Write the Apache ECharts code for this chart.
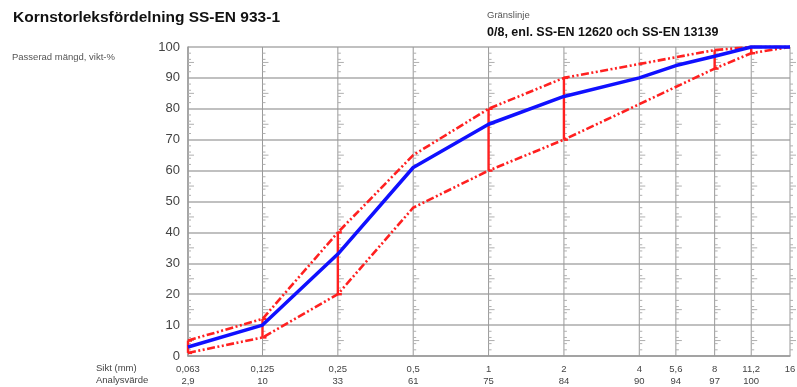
<!DOCTYPE html>
<html><head><meta charset="utf-8">
<script src="https://cdn.jsdelivr.net/npm/echarts@6/dist/echarts.min.js"></script>
<style>html,body{margin:0;padding:0;background:#fff}#c{width:797px;height:387px}</style>
</head><body><div id="c"></div>
<script>
const title = 'Kornstorleksfördelning SS-EN 933-1';
const yAxisName = 'Passerad mängd, vikt-%';
const limitCaption = 'Gränslinje';
const limitName = '0/8, enl. SS-EN 12620 och SS-EN 13139';
const rowLabels = ['Sikt (mm)', 'Analysvärde'];

const sieves = [0.063, 0.125, 0.25, 0.5, 1, 2, 4, 5.6, 8, 11.2, 16];
const analysis = [2.9, 10, 33, 61, 75, 84, 90, 94, 97, 100, 100];
const analysisLabels = ['2,9', '10', '33', '61', '75', '84', '90', '94', '97', '100', ''];

const limitSieves = [0.063, 0.125, 0.25, 0.5, 1, 2, 8, 11.2, 16];
const upperLimit = [5, 12, 40, 65, 80, 90, 99, 100, 100];
const lowerLimit = [1, 6, 20, 48, 60, 70, 93, 98, 100];
const barSieves = [0.063, 0.125, 0.25, 1, 2, 8, 11.2];

const minorMarks = [];
for (let d = 0; d < 100; d += 10) { [2, 4, 5, 6, 8].forEach(m => minorMarks.push(d + m)); }

const fmt = v => String(v).replace('.', ',');
const FONT = '"Liberation Sans", Arial, sans-serif';
const DASH = [8, 2.5, 2, 2.5, 2, 2.5];

const chart = echarts.init(document.getElementById('c'), null, { renderer: 'canvas' });

const barData = barSieves.map(s => {
  const i = limitSieves.indexOf(s);
  return [s, lowerLimit[i], upperLimit[i]];
});

chart.setOption({
  animation: false,
  backgroundColor: '#fff',
  textStyle: { fontFamily: FONT },
  grid: { left: 188, right: 7, top: 47, bottom: 31 },
  xAxis: {
    type: 'log', logBase: 2, min: 0.063, max: 16,
    axisLabel: { show: false }, axisTick: { show: false }, splitLine: { show: false },
    axisLine: { show: true, lineStyle: { color: '#999', width: 1.5 } }
  },
  yAxis: {
    type: 'value', min: 0, max: 100, interval: 10,
    axisLine: { show: true, lineStyle: { color: '#999', width: 1.5 } },
    axisTick: { show: false },
    axisLabel: { fontSize: 13, color: '#444', margin: 8, fontFamily: FONT },
    splitLine: { lineStyle: { color: '#c0c0c0', width: 2 } }
  },
  graphic: [
    { type: 'text', left: 13, top: 10, style: { text: title, font: 'bold 15.5px ' + FONT, fill: '#111' } },
    { type: 'text', left: 487, top: 10, style: { text: limitCaption, font: '9.5px ' + FONT, fill: '#555' } },
    { type: 'text', left: 487, top: 26, style: { text: limitName, font: 'bold 12.5px ' + FONT, fill: '#111' } },
    { type: 'text', left: 12, top: 52, style: { text: yAxisName, font: '9.5px ' + FONT, fill: '#555' } },
    { type: 'text', left: 96, top: 363, style: { text: rowLabels[0], font: '9.5px ' + FONT, fill: '#444' } },
    { type: 'text', left: 96, top: 375, style: { text: rowLabels[1], font: '9.5px ' + FONT, fill: '#444' } }
  ],
  series: [
    {
      type: 'custom', name: 'grid', z: 1, silent: true, clip: false,
      data: sieves.map((s, i) => [s, i]),
      renderItem: (params, api) => {
        const s = api.value(0);
        const i = api.value(1);
        const b = api.coord([s, 0]);
        const t = api.coord([s, 100]);
        const children = [
          { type: 'line', shape: { x1: b[0], y1: b[1], x2: t[0], y2: t[1] }, style: { stroke: '#999', lineWidth: 1 } }
        ];
        minorMarks.forEach(y => {
          const p = api.coord([s, y]);
          const len = (y % 10 === 5) ? 6 : 3;
          children.push({ type: 'line', shape: { x1: p[0], y1: p[1], x2: p[0] + len, y2: p[1] }, style: { stroke: '#b0b0b0', lineWidth: 1 } });
        });
        children.push({ type: 'text', x: b[0], y: b[1] + 7, style: {
          text: fmt(sieves[i]) + '\n' + analysisLabels[i], align: 'center', verticalAlign: 'top',
          font: '9.5px ' + FONT, lineHeight: 12, fill: '#444' } });
        return { type: 'group', children };
      }
    },
    {
      type: 'line', name: 'upper', z: 3, symbol: 'none', clip: false,
      data: limitSieves.map((s, i) => [s, upperLimit[i]]),
      lineStyle: { color: '#ff2020', width: 2.6, type: DASH }
    },
    {
      type: 'line', name: 'lower', z: 3, symbol: 'none', clip: false,
      data: limitSieves.map((s, i) => [s, lowerLimit[i]]),
      lineStyle: { color: '#ff2020', width: 2.6, type: DASH }
    },
    {
      type: 'custom', name: 'bars', z: 4, silent: true, clip: false,
      data: barData,
      renderItem: (params, api) => {
        const s = api.value(0);
        const lo = api.coord([s, api.value(1)]);
        const hi = api.coord([s, api.value(2)]);
        const st = { stroke: '#ff2020', lineWidth: 2.4 };
        return { type: 'group', children: [
          { type: 'line', shape: { x1: lo[0], y1: lo[1], x2: hi[0], y2: hi[1] }, style: st },
          { type: 'line', shape: { x1: hi[0], y1: hi[1], x2: hi[0] + 4, y2: hi[1] }, style: st },
          { type: 'line', shape: { x1: lo[0], y1: lo[1], x2: lo[0] + 4, y2: lo[1] }, style: st }
        ] };
      }
    },
    {
      type: 'line', name: 'analys', z: 5, symbol: 'none', clip: false,
      data: sieves.map((s, i) => [s, analysis[i]]),
      lineStyle: { color: '#1010ff', width: 3.5 }
    }
  ]
});
</script></body></html>
